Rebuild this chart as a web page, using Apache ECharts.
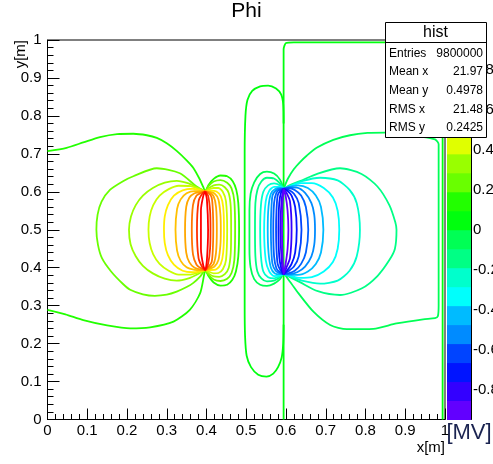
<!DOCTYPE html>
<html>
<head>
<meta charset="utf-8">
<script src="https://cdn.jsdelivr.net/npm/echarts@6/dist/echarts.min.js"></script>
<style>
html,body{margin:0;padding:0;background:#fff;}
#chart{width:493px;height:464px;}
</style>
</head>
<body>
<div id="chart"></div>
<script>
// ---- axis ticks ----
const xTicks = [0, 0.1, 0.2, 0.3, 0.4, 0.5, 0.6, 0.7, 0.8, 0.9, 1];
const yTicks = [0, 0.1, 0.2, 0.3, 0.4, 0.5, 0.6, 0.7, 0.8, 0.9, 1];
const zTicks = [-0.8, -0.6, -0.4, -0.2, 0, 0.2, 0.4, 0.6, 0.8];

// ---- colour palette (potential bands, MV) ----
const paletteEdges = [-0.95, -0.855, -0.76, -0.665, -0.57, -0.475, -0.38, -0.285, -0.19, -0.095,
  0, 0.095, 0.19, 0.285, 0.38, 0.475, 0.57, 0.665, 0.76, 0.855, 0.95];
const paletteColors = ['#6200ff', '#3300ff', '#0014ff', '#0044ff', '#008bff', '#00bbff', '#00fffc',
  '#00ffcc', '#00ff85', '#00ff55', '#00ff0e', '#22ff00', '#69ff00', '#99ff00', '#e0ff00', '#ffee00',
  '#ffa700', '#ff7700', '#ff3000', '#ff0000'];

// ---- equipotential line colours ----
const zeroColor = '#00ff0e';
const posColors = ['#22ff00', '#69ff00', '#99ff00', '#c8ff00', '#ffee00', '#ffc000', '#ffa700', '#ff7700', '#ff3000', '#ff0000'];
const negColors = ['#00ff55', '#00ff85', '#00ffcc', '#00fffc', '#00bbff', '#008bff', '#0060ff', '#0044ff', '#0014ff', '#3300ff', '#6200ff'];

// ---- zero potential lines ----
const zeroFrame = [[0.594, 0], [0.594, 0.3], [0.594, 0.6], [0.594, 0.9], [0.594, 0.975], [0.6, 0.992], [0.62, 0.994],
  [0.8, 0.994], [0.975, 0.994], [0.994, 0.985], [0.994, 0.6], [0.994, 0.3], [0.994, 0]];
const zeroLoop = [[0.594, 0.78], [0.593, 0.83], [0.588, 0.856], [0.575, 0.872], [0.555, 0.88], [0.535, 0.878],
  [0.515, 0.866], [0.503, 0.842], [0.498, 0.8], [0.496, 0.7], [0.496, 0.5], [0.496, 0.3], [0.497, 0.22],
  [0.501, 0.168], [0.512, 0.138], [0.53, 0.118], [0.551, 0.113], [0.568, 0.121], [0.58, 0.138],
  [0.589, 0.163], [0.593, 0.2], [0.594, 0.25]];

// ---- positive electrode (x = 0.397) equipotentials, outer to inner ----
const pos1 = [[0, 0.707], [0.048, 0.716], [0.09, 0.73], [0.132, 0.744], [0.175, 0.752], [0.216, 0.753],
  [0.25, 0.749], [0.275, 0.742], [0.3, 0.728], [0.325, 0.708], [0.35, 0.683], [0.367, 0.663], [0.382, 0.635],
  [0.392, 0.612], [0.397, 0.601], [0.405, 0.618], [0.418, 0.634], [0.435, 0.643], [0.452, 0.641],
  [0.466, 0.628], [0.475, 0.605], [0.48, 0.57], [0.482, 0.5], [0.48, 0.43], [0.474, 0.39], [0.465, 0.368],
  [0.452, 0.355], [0.435, 0.353], [0.418, 0.361], [0.405, 0.378], [0.397, 0.394], [0.394, 0.381],
  [0.384, 0.333], [0.358, 0.289], [0.317, 0.258], [0.258, 0.243], [0.208, 0.24], [0.15, 0.248],
  [0.09, 0.262], [0.045, 0.277], [0, 0.289]];
const pos2 = [[0.397, 0.601], [0.375, 0.614], [0.333, 0.649], [0.275, 0.662], [0.216, 0.641], [0.19, 0.628],
  [0.157, 0.605], [0.136, 0.574], [0.126, 0.54], [0.123, 0.5], [0.127, 0.46], [0.137, 0.425], [0.16, 0.39],
  [0.19, 0.357], [0.208, 0.342], [0.24, 0.33], [0.27, 0.326], [0.3, 0.329], [0.325, 0.337], [0.35, 0.349],
  [0.367, 0.36], [0.385, 0.378], [0.397, 0.394], [0.405, 0.381], [0.418, 0.369], [0.435, 0.365],
  [0.452, 0.371], [0.463, 0.386], [0.47, 0.42], [0.472, 0.5], [0.47, 0.575], [0.463, 0.609],
  [0.452, 0.624], [0.435, 0.631], [0.418, 0.627], [0.405, 0.615], [0.397, 0.601]];
const pos3 = [[0.397, 0.601], [0.38, 0.609], [0.355, 0.622], [0.325, 0.629], [0.295, 0.624], [0.265, 0.61],
  [0.24, 0.59], [0.222, 0.565], [0.21, 0.535], [0.205, 0.5], [0.209, 0.462], [0.222, 0.43], [0.24, 0.405],
  [0.265, 0.385], [0.295, 0.371], [0.325, 0.366], [0.355, 0.372], [0.38, 0.384], [0.397, 0.394],
  [0.405, 0.385], [0.418, 0.377], [0.432, 0.376], [0.446, 0.383], [0.456, 0.4], [0.461, 0.44],
  [0.462, 0.5], [0.461, 0.56], [0.456, 0.596], [0.446, 0.612], [0.432, 0.619], [0.418, 0.617],
  [0.405, 0.609], [0.397, 0.601]];
const pos4 = [[0.397, 0.601], [0.385, 0.606], [0.36, 0.615], [0.33, 0.616], [0.305, 0.607], [0.282, 0.59],
  [0.266, 0.565], [0.257, 0.535], [0.254, 0.5], [0.257, 0.465], [0.266, 0.435], [0.282, 0.41],
  [0.305, 0.392], [0.33, 0.382], [0.36, 0.382], [0.385, 0.389], [0.397, 0.394], [0.405, 0.39],
  [0.418, 0.385], [0.43, 0.386], [0.441, 0.396], [0.449, 0.42], [0.452, 0.5], [0.449, 0.575],
  [0.441, 0.6], [0.43, 0.61], [0.418, 0.61], [0.405, 0.606], [0.397, 0.601]];
const pos5 = [[0.397, 0.601], [0.385, 0.604], [0.365, 0.608], [0.34, 0.604], [0.318, 0.59], [0.303, 0.565],
  [0.295, 0.535], [0.293, 0.5], [0.295, 0.465], [0.303, 0.433], [0.318, 0.408], [0.34, 0.392],
  [0.365, 0.388], [0.385, 0.391], [0.397, 0.394], [0.41, 0.394], [0.425, 0.396], [0.436, 0.41],
  [0.442, 0.44], [0.444, 0.5], [0.442, 0.56], [0.436, 0.588], [0.425, 0.601], [0.41, 0.603], [0.397, 0.601]];
const pos6 = [[0.397, 0.601], [0.385, 0.602], [0.37, 0.602], [0.35, 0.596], [0.335, 0.58], [0.326, 0.555],
  [0.322, 0.5], [0.326, 0.445], [0.335, 0.418], [0.35, 0.401], [0.37, 0.394], [0.385, 0.393],
  [0.397, 0.394], [0.408, 0.397], [0.42, 0.403], [0.43, 0.42], [0.435, 0.46], [0.436, 0.5],
  [0.435, 0.54], [0.43, 0.58], [0.42, 0.596], [0.408, 0.6], [0.397, 0.601]];
const pos7 = [[0.397, 0.601], [0.385, 0.6], [0.37, 0.596], [0.357, 0.585], [0.349, 0.56], [0.346, 0.5],
  [0.349, 0.44], [0.357, 0.414], [0.37, 0.4], [0.385, 0.395], [0.397, 0.394], [0.408, 0.4],
  [0.418, 0.41], [0.424, 0.44], [0.426, 0.5], [0.424, 0.56], [0.418, 0.588], [0.408, 0.598], [0.397, 0.601]];
const pos8 = [[0.397, 0.601], [0.388, 0.598], [0.375, 0.59], [0.366, 0.565], [0.363, 0.5], [0.366, 0.435],
  [0.375, 0.408], [0.388, 0.397], [0.397, 0.394], [0.405, 0.402], [0.413, 0.415], [0.416, 0.45],
  [0.417, 0.5], [0.416, 0.55], [0.413, 0.585], [0.405, 0.597], [0.397, 0.601]];
const pos9 = [[0.397, 0.601], [0.39, 0.596], [0.38, 0.575], [0.376, 0.5], [0.38, 0.425], [0.39, 0.4],
  [0.397, 0.394], [0.404, 0.41], [0.409, 0.45], [0.41, 0.5], [0.409, 0.55], [0.404, 0.59], [0.397, 0.601]];
const pos10 = [[0.397, 0.601], [0.392, 0.59], [0.386, 0.55], [0.386, 0.45], [0.392, 0.405], [0.397, 0.394],
  [0.401, 0.42], [0.404, 0.5], [0.401, 0.58], [0.397, 0.601]];

// ---- negative electrode (x = 0.594) equipotentials, outer to inner ----
const neg1 = [[0.594, 0.608], [0.605, 0.635], [0.62, 0.66], [0.636, 0.679], [0.652, 0.695], [0.677, 0.716],
  [0.719, 0.737], [0.761, 0.749], [0.805, 0.755], [0.849, 0.756], [0.887, 0.749], [0.941, 0.745],
  [0.975, 0.738], [0.984, 0.725], [0.984, 0.6], [0.984, 0.4], [0.984, 0.3], [0.982, 0.272], [0.975, 0.267],
  [0.945, 0.264], [0.878, 0.253], [0.82, 0.239], [0.753, 0.238], [0.711, 0.249], [0.669, 0.284],
  [0.631, 0.333], [0.61, 0.363], [0.594, 0.383], [0.585, 0.37], [0.57, 0.358], [0.552, 0.352],
  [0.535, 0.355], [0.52, 0.37], [0.511, 0.4], [0.508, 0.45], [0.508, 0.5], [0.508, 0.55], [0.511, 0.595],
  [0.52, 0.625], [0.535, 0.647], [0.552, 0.653], [0.57, 0.648], [0.585, 0.632], [0.594, 0.608]];
const neg2 = [[0.594, 0.608], [0.61, 0.618], [0.635, 0.628], [0.68, 0.648], [0.736, 0.662], [0.79, 0.647],
  [0.83, 0.614], [0.86, 0.565], [0.875, 0.52], [0.878, 0.5], [0.874, 0.45], [0.86, 0.42], [0.83, 0.378],
  [0.79, 0.345], [0.736, 0.328], [0.68, 0.338], [0.635, 0.362], [0.61, 0.375], [0.594, 0.383],
  [0.585, 0.375], [0.57, 0.366], [0.552, 0.364], [0.538, 0.372], [0.528, 0.39], [0.523, 0.43],
  [0.522, 0.5], [0.523, 0.57], [0.528, 0.605], [0.538, 0.627], [0.552, 0.637], [0.57, 0.635],
  [0.585, 0.622], [0.594, 0.608]];
const neg3 = [[0.594, 0.608], [0.61, 0.615], [0.64, 0.628], [0.686, 0.637], [0.73, 0.63], [0.76, 0.605],
  [0.778, 0.57], [0.786, 0.5], [0.778, 0.43], [0.76, 0.392], [0.73, 0.366], [0.686, 0.358], [0.64, 0.366],
  [0.61, 0.377], [0.594, 0.383], [0.585, 0.378], [0.57, 0.372], [0.555, 0.375], [0.543, 0.39],
  [0.537, 0.43], [0.535, 0.5], [0.537, 0.565], [0.543, 0.6], [0.555, 0.617], [0.57, 0.622],
  [0.585, 0.617], [0.594, 0.608]];
const neg4 = [[0.594, 0.608], [0.61, 0.614], [0.635, 0.623], [0.665, 0.623], [0.695, 0.61], [0.718, 0.585],
  [0.73, 0.55], [0.734, 0.5], [0.73, 0.45], [0.718, 0.415], [0.695, 0.39], [0.665, 0.375], [0.635, 0.373],
  [0.61, 0.379], [0.594, 0.383], [0.585, 0.38], [0.57, 0.378], [0.558, 0.39], [0.549, 0.42],
  [0.545, 0.5], [0.549, 0.575], [0.558, 0.603], [0.57, 0.613], [0.585, 0.613], [0.594, 0.608]];
const neg5 = [[0.594, 0.608], [0.608, 0.613], [0.63, 0.617], [0.655, 0.61], [0.675, 0.59], [0.688, 0.56],
  [0.694, 0.5], [0.688, 0.44], [0.675, 0.41], [0.655, 0.39], [0.63, 0.381], [0.608, 0.381],
  [0.594, 0.383], [0.585, 0.383], [0.572, 0.385], [0.562, 0.4], [0.556, 0.44], [0.554, 0.5],
  [0.556, 0.56], [0.562, 0.595], [0.572, 0.607], [0.585, 0.61], [0.594, 0.608]];
const neg6 = [[0.594, 0.608], [0.608, 0.612], [0.628, 0.611], [0.648, 0.597], [0.664, 0.57], [0.671, 0.54],
  [0.673, 0.5], [0.671, 0.46], [0.664, 0.43], [0.648, 0.403], [0.628, 0.388], [0.608, 0.383],
  [0.594, 0.383], [0.585, 0.385], [0.574, 0.392], [0.566, 0.41], [0.563, 0.45], [0.562, 0.5],
  [0.563, 0.55], [0.566, 0.59], [0.574, 0.603], [0.585, 0.608], [0.594, 0.608]];
const neg7 = [[0.594, 0.608], [0.606, 0.61], [0.622, 0.605], [0.638, 0.59], [0.65, 0.56], [0.656, 0.5],
  [0.65, 0.44], [0.638, 0.41], [0.622, 0.392], [0.606, 0.385], [0.594, 0.383], [0.585, 0.388],
  [0.576, 0.398], [0.57, 0.43], [0.568, 0.5], [0.57, 0.57], [0.576, 0.598], [0.585, 0.606], [0.594, 0.608]];
const neg8 = [[0.594, 0.608], [0.605, 0.606], [0.62, 0.595], [0.632, 0.57], [0.639, 0.5], [0.632, 0.43],
  [0.62, 0.403], [0.605, 0.39], [0.594, 0.383], [0.586, 0.393], [0.579, 0.41], [0.576, 0.45],
  [0.575, 0.5], [0.576, 0.55], [0.579, 0.59], [0.586, 0.603], [0.594, 0.608]];
const neg9 = [[0.594, 0.608], [0.603, 0.603], [0.614, 0.59], [0.623, 0.56], [0.627, 0.5], [0.623, 0.44],
  [0.614, 0.41], [0.603, 0.393], [0.594, 0.383], [0.588, 0.398], [0.583, 0.43], [0.581, 0.5],
  [0.583, 0.57], [0.588, 0.6], [0.594, 0.608]];
const neg10 = [[0.594, 0.608], [0.601, 0.598], [0.61, 0.575], [0.614, 0.5], [0.61, 0.425], [0.601, 0.4],
  [0.594, 0.383], [0.589, 0.42], [0.586, 0.5], [0.589, 0.58], [0.594, 0.608]];
const neg11 = [[0.594, 0.608], [0.599, 0.59], [0.604, 0.55], [0.606, 0.5], [0.604, 0.45], [0.599, 0.41],
  [0.594, 0.383], [0.591, 0.44], [0.59, 0.5], [0.591, 0.56], [0.594, 0.608]];

const posContours = [pos1, pos2, pos3, pos4, pos5, pos6, pos7, pos8, pos9, pos10];
const negContours = [neg1, neg2, neg3, neg4, neg5, neg6, neg7, neg8, neg9, neg10, neg11];

// ---- statistics box ----
const statTitle = 'hist';
const statNames = ['Entries', 'Mean x', 'Mean y', 'RMS x', 'RMS y'];
const statValues = ['9800000', '21.97', '0.4978', '21.48', '0.2425'];

const FONT = "'Liberation Sans', Arial, Helvetica, sans-serif";

function contourSeries(points, color) {
  return {
    type: 'line', xAxisIndex: 0, yAxisIndex: 0, data: points,
    showSymbol: false, symbol: 'none', smooth: 0.25, silent: true,
    lineStyle: { color: color, width: 1.8 }, clip: true
  };
}

const series = [];
series.push(contourSeries(zeroFrame, zeroColor));
series.push(contourSeries(zeroLoop, zeroColor));
negContours.forEach((c, i) => series.push(contourSeries(c, negColors[i])));
posContours.forEach((c, i) => series.push(contourSeries(c, posColors[i])));

// colour bar bands
const paletteBands = paletteColors.map((c, i) => [paletteEdges[i], paletteEdges[i + 1], i]);
series.push({
  type: 'custom', xAxisIndex: 1, yAxisIndex: 1, silent: true,
  data: paletteBands,
  encode: { y: [0, 1] },
  renderItem: function (params, api) {
    const lo = api.value(0), hi = api.value(1);
    const p0 = api.coord([0, hi]);
    const p1 = api.coord([1, lo]);
    return {
      type: 'rect',
      shape: { x: p0[0], y: p0[1], width: p1[0] - p0[0], height: p1[1] - p0[1] + 0.5 },
      style: { fill: paletteColors[api.value(2)] }
    };
  }
});

const axisText = { fontFamily: FONT, fontSize: 15, color: '#000' };
const fmt = v => String(Math.round(v * 10) / 10);

// statistics box graphics
const boxX = 385, boxY = 22, boxW = 101, boxH = 115;
const statGraphics = [
  { type: 'rect', z: 100, shape: { x: boxX + 0.5, y: boxY + 0.5, width: boxW, height: boxH },
    style: { fill: '#fff', stroke: '#000', lineWidth: 1 } },
  { type: 'line', z: 101, shape: { x1: boxX, y1: 42.5, x2: boxX + boxW, y2: 42.5 },
    style: { stroke: '#000', lineWidth: 1 } },
  { type: 'text', z: 101, x: boxX + boxW / 2, y: 32.5,
    style: { text: statTitle, align: 'center', verticalAlign: 'middle', font: '16px ' + FONT, fill: '#000' } }
];
const rowY = [53.5, 72, 90.5, 109.5, 128];
statNames.forEach((n, i) => {
  statGraphics.push({ type: 'text', z: 101, x: boxX + 4, y: rowY[i],
    style: { text: n, align: 'left', verticalAlign: 'middle', font: '12px ' + FONT, fill: '#000' } });
  statGraphics.push({ type: 'text', z: 101, x: boxX + boxW - 3, y: rowY[i],
    style: { text: statValues[i], align: 'right', verticalAlign: 'middle', font: '12px ' + FONT, fill: '#000' } });
});

const option = {
  animation: false,
  backgroundColor: '#fff',
  title: {
    text: 'Phi', left: 'center', top: -4,
    textStyle: { fontFamily: FONT, fontSize: 21, fontWeight: 'normal', color: '#000' }
  },
  grid: [
    { left: 47.5, top: 40, width: 397.5, height: 379.5, show: true, borderColor: '#000', borderWidth: 1,
      containLabel: false, outerBoundsMode: 'none' },
    { left: 447, top: 40, width: 24, height: 379.5, show: false, containLabel: false, outerBoundsMode: 'none' }
  ],
  xAxis: [
    {
      gridIndex: 0, type: 'value', min: 0, max: 1, interval: 0.1,
      axisLine: { show: true, onZero: false, lineStyle: { color: '#000', width: 1 } },
      axisTick: { show: true, inside: true, length: 11, customValues: xTicks, lineStyle: { color: '#000' } },
      minorTick: { show: true, splitNumber: 5, length: 5.5, lineStyle: { color: '#000' } },
      axisLabel: Object.assign({ margin: 4, customValues: xTicks, formatter: fmt }, axisText),
      splitLine: { show: false }
    },
    { gridIndex: 1, type: 'value', min: 0, max: 1, show: false }
  ],
  yAxis: [
    {
      gridIndex: 0, type: 'value', min: 0, max: 1, interval: 0.1,
      axisLine: { show: true, onZero: false, lineStyle: { color: '#000', width: 1 } },
      axisTick: { show: true, inside: true, length: 12, customValues: yTicks, lineStyle: { color: '#000' } },
      minorTick: { show: true, splitNumber: 5, length: 6, lineStyle: { color: '#000' } },
      axisLabel: Object.assign({ margin: 6, customValues: yTicks, formatter: fmt }, axisText),
      splitLine: { show: false }
    },
    {
      gridIndex: 1, type: 'value', min: paletteEdges[0], max: paletteEdges[paletteEdges.length - 1],
      position: 'right',
      axisLine: { show: true, onZero: false, lineStyle: { color: '#000', width: 1 } },
      axisTick: { show: true, inside: true, length: 11, customValues: zTicks, lineStyle: { color: '#000' } },
      axisLabel: Object.assign({ margin: 2, customValues: zTicks, formatter: fmt, hideOverlap: false }, axisText),
      splitLine: { show: false }
    }
  ],
  graphic: [
    { type: 'text', x: 445, y: 448, style: { text: 'x[m]', align: 'right', verticalAlign: 'middle', font: '15px ' + FONT, fill: '#000' } },
    { type: 'text', x: 21, y: 40, rotation: Math.PI / 2, style: { text: 'y[m]', align: 'right', verticalAlign: 'middle', font: '15px ' + FONT, fill: '#000' } },
    { type: 'text', x: 469, y: 433, style: { text: '[MV]', align: 'center', verticalAlign: 'middle', font: '22px ' + FONT, fill: '#1a2350' } }
  ].concat(statGraphics),
  series: series
};

const chart = echarts.init(document.getElementById('chart'), null, { renderer: 'canvas' });
chart.setOption(option);
</script>
</body>
</html>
